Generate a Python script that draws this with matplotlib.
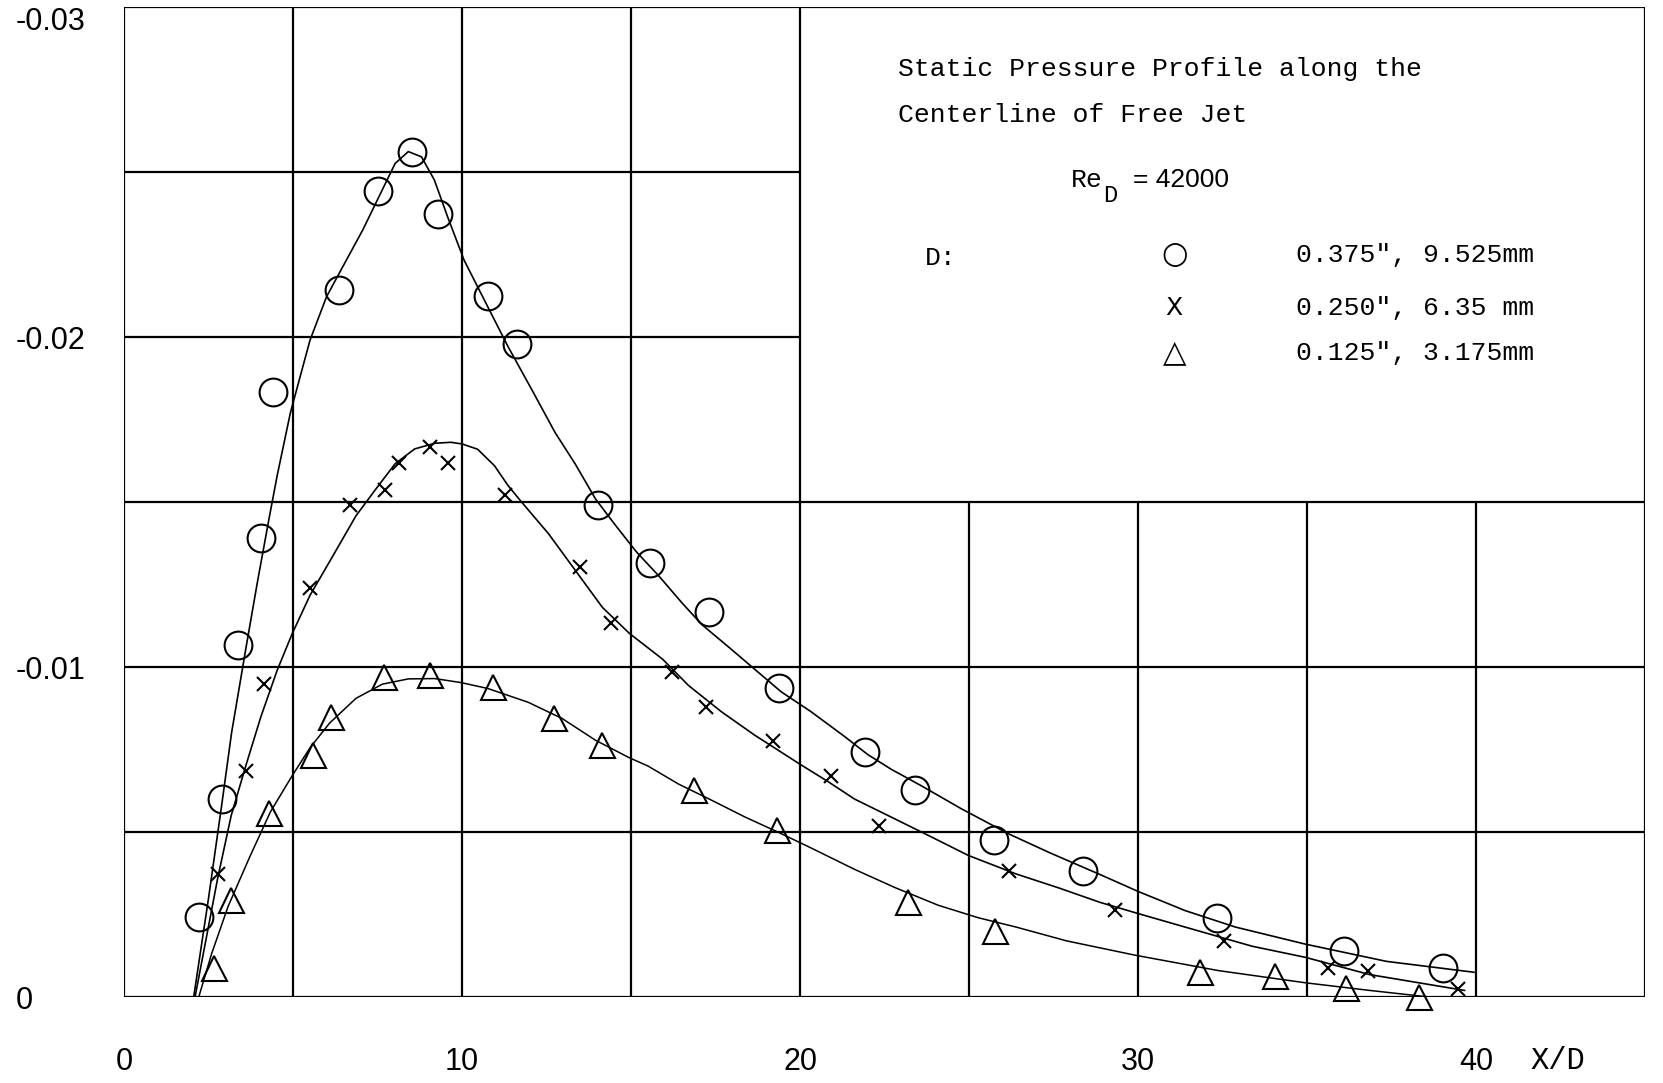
import matplotlib
matplotlib.use("Agg")
import matplotlib.pyplot as plt

# measured points (X/D, static pressure coefficient)
circ_x = [2.23, 2.91, 3.37, 4.05, 4.41, 6.36, 7.52, 8.52, 9.29, 10.78, 11.63, 14.01,
          15.56, 17.31, 19.37, 21.93, 23.39, 25.73, 28.37, 32.33, 36.09, 39.01]
circ_y = [-0.00241, -0.00599, -0.01066, -0.01392, -0.01833, -0.02142, -0.02443, -0.02562,
          -0.02372, -0.02124, -0.01979, -0.0149, -0.01316, -0.01167, -0.00937, -0.00743,
          -0.00626, -0.00476, -0.00381, -0.0024, -0.00139, -0.00088]

cross_x = [2.77, 3.61, 4.15, 5.5, 6.67, 7.73, 8.14, 9.04, 9.59, 11.28, 13.5, 14.4,
           16.22, 17.22, 19.19, 20.91, 22.34, 26.18, 29.33, 32.55, 35.61, 36.79, 39.48]
cross_y = [-0.00372, -0.00686, -0.0095, -0.01239, -0.0149, -0.01536, -0.01618, -0.01666,
           -0.01619, -0.0152, -0.01303, -0.01134, -0.00986, -0.0088, -0.00775, -0.00671,
           -0.00518, -0.00382, -0.00263, -0.0017, -0.00087, -0.00078, -0.00025]

tri_x = [2.67, 3.16, 4.29, 5.59, 6.13, 7.7, 9.04, 10.91, 12.73, 14.13, 16.87, 19.33,
         23.19, 25.78, 31.82, 34.04, 36.14, 38.3]
tri_y = [-0.00087, -0.00295, -0.00557, -0.00732, -0.0085, -0.00971, -0.00975, -0.00939,
         -0.00847, -0.00763, -0.00627, -0.00506, -0.00288, -0.002, -0.00076, -0.00063,
         -0.00026, 0.0]

# hand drawn fair curves
circ_fit_x = [2.06, 2.5, 2.9, 3.18, 3.61, 3.95, 4.29, 4.53, 4.92, 5.5, 5.99, 6.47, 7.06,
              7.54, 8.02, 8.41, 8.8, 9.18, 9.57, 10.06, 10.66, 11.36, 12.05, 12.75, 13.35,
              13.95, 14.55, 15.15, 15.83, 16.51, 17.1, 17.87, 18.65, 19.44, 20.32, 21.31,
              22.0, 22.7, 23.59, 24.78, 26.18, 27.39, 28.9, 30.0, 31.39, 32.88, 34.96,
              37.35, 39.94]
circ_fit_y = [0.0, -0.003, -0.0059, -0.008, -0.0106, -0.0126, -0.0145, -0.0158, -0.0177,
              -0.0199, -0.02122, -0.02213, -0.02324, -0.02425, -0.02526, -0.02562,
              -0.02546, -0.02476, -0.02365, -0.02233, -0.02112, -0.01971, -0.01843,
              -0.01711, -0.01615, -0.01509, -0.01428, -0.0135, -0.01275, -0.01194,
              -0.01128, -0.01062, -0.00994, -0.00925, -0.00865, -0.0079, -0.00735,
              -0.0069, -0.0064, -0.0057, -0.00494, -0.00437, -0.0037, -0.0032, -0.00262,
              -0.00212, -0.0016, -0.00108, -0.00075]

cross_fit_x = [2.1, 2.77, 3.17, 3.6, 4.05, 4.53, 4.97, 5.5, 6.18, 6.86, 7.44, 8.02, 8.6,
               9.19, 9.67, 10.0, 10.46, 10.96, 11.36, 11.76, 12.55, 13.35, 14.15, 14.95,
               15.93, 16.7, 17.68, 18.65, 20.02, 20.81, 21.61, 22.8, 23.79, 24.98, 26.39,
               27.67, 28.87, 30.0, 31.39, 33.37, 34.96, 36.85, 39.66]
cross_fit_y = [0.0, -0.0036, -0.0055, -0.007, -0.0085, -0.0099, -0.011, -0.01217,
               -0.01337, -0.01458, -0.01538, -0.01616, -0.01661, -0.01678, -0.01681,
               -0.01676, -0.0166, -0.0161, -0.0155, -0.015, -0.01405, -0.01293, -0.01181,
               -0.01102, -0.01024, -0.00944, -0.00864, -0.00794, -0.00704, -0.00654,
               -0.006, -0.0054, -0.0049, -0.00429, -0.00373, -0.0033, -0.00287, -0.00253,
               -0.00212, -0.00154, -0.0012, -0.00068, -0.0002]

tri_fit_x = [2.21, 2.59, 3.08, 3.72, 4.33, 4.97, 5.5, 6.08, 6.86, 7.64, 8.41, 9.19, 9.96,
             10.76, 11.56, 11.96, 12.96, 13.95, 14.95, 15.5, 16.41, 17.39, 18.36, 19.34,
             20.32, 21.61, 22.8, 24.09, 25.28, 26.39, 27.89, 29.9, 32.38, 34.96, 36.85,
             39.05]
tri_fit_y = [0.0, -0.00131, -0.00275, -0.00425, -0.00561, -0.0067, -0.00755, -0.0083,
             -0.00905, -0.00948, -0.00964, -0.00965, -0.00953, -0.00935, -0.00907,
             -0.00893, -0.00844, -0.00778, -0.00725, -0.007, -0.00645, -0.00596,
             -0.00546, -0.005, -0.00452, -0.00387, -0.00332, -0.00278, -0.0024,
             -0.00212, -0.0017, -0.00127, -0.0008, -0.00043, -0.0002, 0.00005]

x_ticks = [0, 10, 20, 30, 40]
y_ticks = [-0.03, -0.02, -0.01, 0]
y_tick_labels = ["-0.03", "-0.02", "-0.01", "0"]

legend_labels = ['0.375", 9.525mm', '0.250", 6.35 mm', '0.125", 3.175mm']
legend_syms = ["○", "X", "△"]

mono = "Liberation Mono"
sans = "Liberation Sans"

fig = plt.figure(figsize=(16.63, 10.83), dpi=100)
ax = fig.add_axes([0.0746, 0.0794, 0.9146, 0.9141])
ax.set_xlim(0, 45)
ax.set_ylim(0, -0.03)
for s in ax.spines.values():
    s.set_visible(False)

# graph paper grid, upper right block left open for the caption
lw = 1.6
ax.hlines([0, -0.005, -0.01, -0.015, -0.03], -0.15, 45, color="k", lw=lw)
ax.hlines([-0.02, -0.025], 0, 20, color="k", lw=lw)
ax.vlines([0, 5, 10, 15, 20, 45], 0, -0.03, color="k", lw=lw)
ax.vlines([25, 30, 35, 40], 0, -0.015, color="k", lw=lw)

ax.plot(circ_fit_x, circ_fit_y, color="k", lw=1.2)
ax.plot(cross_fit_x, cross_fit_y, color="k", lw=1.2)
ax.plot(tri_fit_x, tri_fit_y, color="k", lw=1.1)

ax.plot(circ_x, circ_y, "o", ms=20, mfc="none", mec="k", mew=1.5, clip_on=False)
ax.plot(cross_x, cross_y, "x", ms=10, mec="k", mew=1.5, clip_on=False)
ax.plot(tri_x, tri_y, "^", ms=18, mfc="none", mec="k", mew=1.5, clip_on=False)

ax.set_xticks(x_ticks)
ax.set_xticklabels([str(t) for t in x_ticks], fontsize=22, family=sans)
ax.tick_params(axis="x", length=0, pad=36)
ax.set_yticks(y_ticks[1:])
ax.set_yticklabels(y_tick_labels[1:], fontsize=22, family=sans)
ax.tick_params(axis="y", length=0, pad=78)
for lab in ax.get_yticklabels():
    lab.set_horizontalalignment("left")
# top label sits on the paper edge
ax.text(-0.071, y_ticks[0], y_tick_labels[0], transform=ax.get_yaxis_transform(),
        fontsize=22, family=sans, ha="left", va="top")

ax.text(41.6, 0.00194, "X/D", fontsize=22, family=mono, va="center", ha="left")

# caption block
ax.text(22.9, -0.02812, "Static Pressure Profile along the", fontsize=19,
        family=mono, va="center")
ax.text(22.9, -0.02674, "Centerline of Free Jet", fontsize=19, family=mono, va="center")
ax.text(28.0, -0.02476, "Re", fontsize=19, family=mono, va="center")
ax.text(28.98, -0.0243, "D", fontsize=17, family=mono, va="center")
ax.text(29.85, -0.02476, "= 42000", fontsize=19, family=sans, va="center")
ax.text(23.7, -0.0224, "D:", fontsize=19, family=mono, va="center")
sym_y = [-0.0225, -0.02089, -0.01952]
for sym, yy, lab in zip(legend_syms, sym_y, legend_labels):
    ax.text(31.07, yy, sym, fontsize=22 if sym != "X" else 18,
            family=["DejaVu Sans", "Noto Sans"], va="center", ha="center")
    ax.text(34.67, yy, lab, fontsize=19, family=mono, va="center")

fig.savefig("out.png", dpi=100, facecolor="white")
